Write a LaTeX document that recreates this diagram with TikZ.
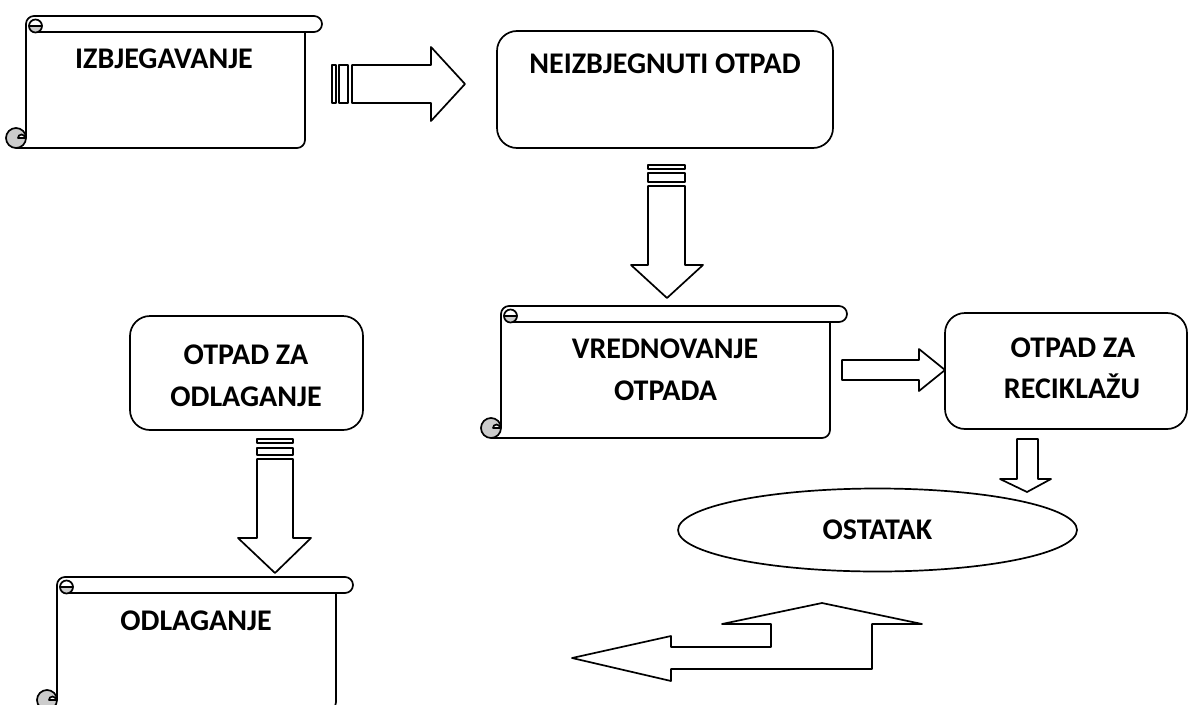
\documentclass[tikz,border=0pt]{standalone}
\usepackage{fontspec}
\setmainfont{Carlito}
\usetikzlibrary{shapes.geometric}
\definecolor{curlgray}{RGB}{204,204,204}
\tikzset{
  shp/.style={draw=black, line width=1.7pt, line join=round},
  rbox/.style={shp, rounded corners=20pt, inner sep=0pt, fill=white},
  lbl/.style={font=\fontsize{30}{43}\selectfont\bfseries, inner sep=0pt, anchor=base},
  blockarrow/.style={shp, fill=white},
}
% #1 body left x, #2 roll top y, #3 body right x, #4 bottom line y
\newcommand\scrollbox[4]{%
  \draw[shp] ({#1},{#4-10}) -- ({#1},{#2+8}) arc[start angle=180,end angle=270,radius=8]
     -- ({#3+9},{#2}) arc[start angle=270,end angle=450,radius=8] -- ({#1+10},{#2+16});
  \draw[shp] ({#3},{#2+16}) -- ({#3},{#4-8}) arc[start angle=0,end angle=90,radius=8] -- ({#1-10},{#4});
  \filldraw[shp,fill=curlgray] ({#1+3},{#2+10}) arc[start angle=180,end angle=0,radius=6.5] -- cycle;
  \draw[shp] ({#1+16},{#2+10}) arc[start angle=0,end angle=-180,radius=6.5];
  \filldraw[shp,fill=curlgray] ({#1-10},{#4-10}) circle[radius=10];
  \filldraw[shp,fill=white] ({#1-8},{#4-10}) arc[start angle=180,end angle=360,radius=3.5] -- cycle;
}
\begin{document}
\begin{tikzpicture}[x=1pt,y=-1pt]
\useasboundingbox (0,0) rectangle (1188,704);

% scrolls
\scrollbox{26}{16}{305}{148}
\scrollbox{501}{306}{830}{438}
\scrollbox{57}{577}{336}{710}

% rounded boxes
\node[rbox, minimum width=336pt, minimum height=117pt] (neiz) at (665,89.5) {};
\node[rbox, minimum width=233pt, minimum height=114pt] (odl) at (246.5,373) {};
\node[rbox, minimum width=242pt, minimum height=116pt] (rec) at (1066,371) {};

% ellipse
\node[shp, ellipse, minimum width=399pt, minimum height=83pt, inner sep=0pt,
      font=\fontsize{30}{43}\selectfont\bfseries] (ost) at (877.5,530) {OSTATAK};

% labels
\node[lbl] (t1) at (164,68) {IZBJEGAVANJE};
\node[lbl] (t2) at (665,73) {NEIZBJEGNUTI OTPAD};
\node[lbl] (t3a) at (665,358) {VREDNOVANJE};
\node[lbl] (t3b) at (665.5,400) {OTPADA};
\node[lbl] (t4a) at (246,364) {OTPAD ZA};
\node[lbl] (t4b) at (246,406) {ODLAGANJE};
\node[lbl] (t5a) at (1073,357) {OTPAD ZA};
\node[lbl] (t5b) at (1072,398) {RECIKLAŽU};
\node[lbl] (t6) at (196,630) {ODLAGANJE};

% striped right arrow
\draw[blockarrow] (332,65) rectangle (336,103);
\draw[blockarrow] (339,65) rectangle (348,103);
\draw[blockarrow] (352,65) -- (431,65) -- (431,47) -- (465,84) -- (431,121) -- (431,103) -- (352,103) -- cycle;

% striped down arrow 1
\draw[blockarrow] (648,165) rectangle (685,169);
\draw[blockarrow] (648,173) rectangle (685,182);
\draw[blockarrow] (648,186) -- (648,265) -- (631,265) -- (667,298) -- (703,265) -- (685,265) -- (685,186) -- cycle;

% striped down arrow 2
\draw[blockarrow] (257,439) rectangle (293,443);
\draw[blockarrow] (257,448) rectangle (293,455);
\draw[blockarrow] (257,459) -- (257,538) -- (238,538) -- (275,573) -- (311,538) -- (293,538) -- (293,459) -- cycle;

% right arrow to recycling
\draw[blockarrow] (842,360) -- (919,360) -- (919,349) -- (945,370) -- (919,391) -- (919,380) -- (842,380) -- cycle;

% small down arrow
\draw[blockarrow] (1017,439) -- (1038,439) -- (1038,479) -- (1051,479) -- (1027,492) -- (1000,479) -- (1017,479) -- cycle;

% bent arrow
\draw[blockarrow] (572,658) -- (671,636) -- (671,647) -- (771,647) -- (771,624) -- (722,624)
  -- (822,603) -- (922,624) -- (872,624) -- (872,669) -- (671,669) -- (671,681) -- cycle;
\end{tikzpicture}
\end{document}
